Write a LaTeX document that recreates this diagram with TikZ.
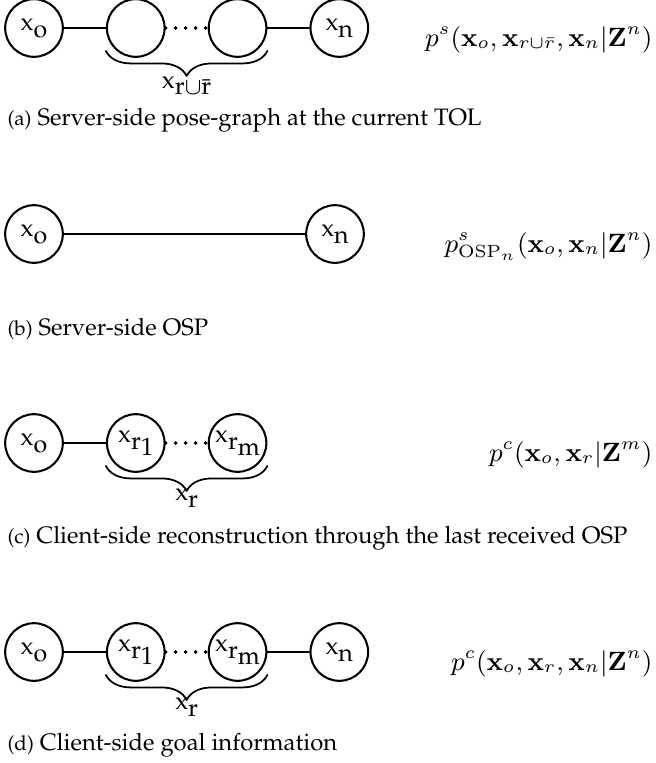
\documentclass[tikz,border=0pt]{standalone}
\usetikzlibrary{positioning,decorations.pathreplacing}
\newcommand{\palfont}{\fontencoding{T1}\fontfamily{ppl}\selectfont}
\newcommand{\lowr}[1]{\raisebox{-0.55ex}{#1}}
\newcommand{\sublabel}[1]{{\fontsize{7}{8}\selectfont(#1)}}
\begin{document}
\begin{tikzpicture}[x=0.34pt, y=0.34pt, line join=round, line cap=round,
	pose/.style={circle, draw, line width=0.7pt, minimum size=19.6pt, inner sep=0pt, font=\palfont\fontsize{8.5}{10}\selectfont},
	edge/.style={line width=0.7pt},
	chain/.style={line width=1.3pt, dash pattern=on 0pt off 3.4pt},
	group/.style={decorate, decoration={brace, mirror, amplitude=8.5pt}, line width=0.6pt},
	dens/.style={anchor=base east, inner sep=0pt, font=\fontsize{8.8}{11}\selectfont},
	capt/.style={anchor=base west, inner sep=0pt, font=\palfont\fontsize{8.1}{10}\selectfont}]
	\useasboundingbox (0,0) rectangle (655,-763);
	% (a) server-side pose-graph
	\node[pose] (ao) at (34,-28) {x\lowr{o}};
	\node[pose, right=14.3pt of ao] (ar) {};
	\node[pose, right=14.3pt of ar] (arb) {};
	\node[pose, right=14.3pt of arb] (an) {x\lowr{n}};
	\draw[edge] (ao)--(ar);
	\draw[chain] (ar)--(arb);
	\draw[edge] (arb)--(an);
	\draw[group] ([yshift=-7.8pt]ar.west)--([yshift=-7.8pt]arb.east)
		node[pos=0.5, anchor=base, yshift=-12.6pt, font=\palfont\fontsize{8.5}{10}\selectfont]{x\lowr{r$\cup$\=r}};
	\node[dens] (pa) at (653,-46) {$p^s(\mathbf{x}_o,\mathbf{x}_{r\cup\bar{r}},\mathbf{x}_n|\mathbf{Z}^n)$};
	\node[capt] (ca) at (7,-125) {\sublabel{a} Server-side pose-graph at the current TOL};
	% (b) server-side OSP
	\node[pose] (bo) at (34,-234) {x\lowr{o}};
	\node[pose] (bn) at (335,-234) {x\lowr{n}};
	\draw[edge] (bo)--(bn);
	\node[dens] (pb) at (653,-252) {$p^s_{\mathrm{OSP}_n}(\mathbf{x}_o,\mathbf{x}_n|\mathbf{Z}^n)$};
	\node[capt] (cb) at (7,-335) {\sublabel{b} Server-side OSP};
	% (c) client-side reconstruction
	\node[pose] (co) at (34,-443) {x\lowr{o}};
	\node[pose, right=14.3pt of co] (cr1) {x\lowr{r\lowr{1}}};
	\node[pose, right=14.3pt of cr1] (crm) {x\lowr{r\lowr{m}}};
	\draw[edge] (co)--(cr1);
	\draw[chain] (cr1)--(crm);
	\draw[group] ([yshift=-7.8pt]cr1.west)--([yshift=-7.8pt]crm.east)
		node[pos=0.5, anchor=base, yshift=-11.9pt, font=\palfont\fontsize{8.5}{10}\selectfont]{x\lowr{r}};
	\node[dens] (pc) at (653,-461) {$p^c(\mathbf{x}_o,\mathbf{x}_r|\mathbf{Z}^m)$};
	\node[capt] (cc) at (7,-543) {\sublabel{c} Client-side reconstruction through the last received OSP};
	% (d) client-side goal information
	\node[pose] (do) at (34,-652) {x\lowr{o}};
	\node[pose, right=14.3pt of do] (dr1) {x\lowr{r\lowr{1}}};
	\node[pose, right=14.3pt of dr1] (drm) {x\lowr{r\lowr{m}}};
	\node[pose, right=14.3pt of drm] (dn) {x\lowr{n}};
	\draw[edge] (do)--(dr1);
	\draw[chain] (dr1)--(drm);
	\draw[edge] (drm)--(dn);
	\draw[group] ([yshift=-7.8pt]dr1.west)--([yshift=-7.8pt]drm.east)
		node[pos=0.5, anchor=base, yshift=-11.9pt, font=\palfont\fontsize{8.5}{10}\selectfont]{x\lowr{r}};
	\node[dens] (pd) at (653,-670) {$p^c(\mathbf{x}_o,\mathbf{x}_r,\mathbf{x}_n|\mathbf{Z}^n)$};
	\node[capt] (cd) at (7,-750) {\sublabel{d} Client-side goal information};
\end{tikzpicture}
\end{document}
